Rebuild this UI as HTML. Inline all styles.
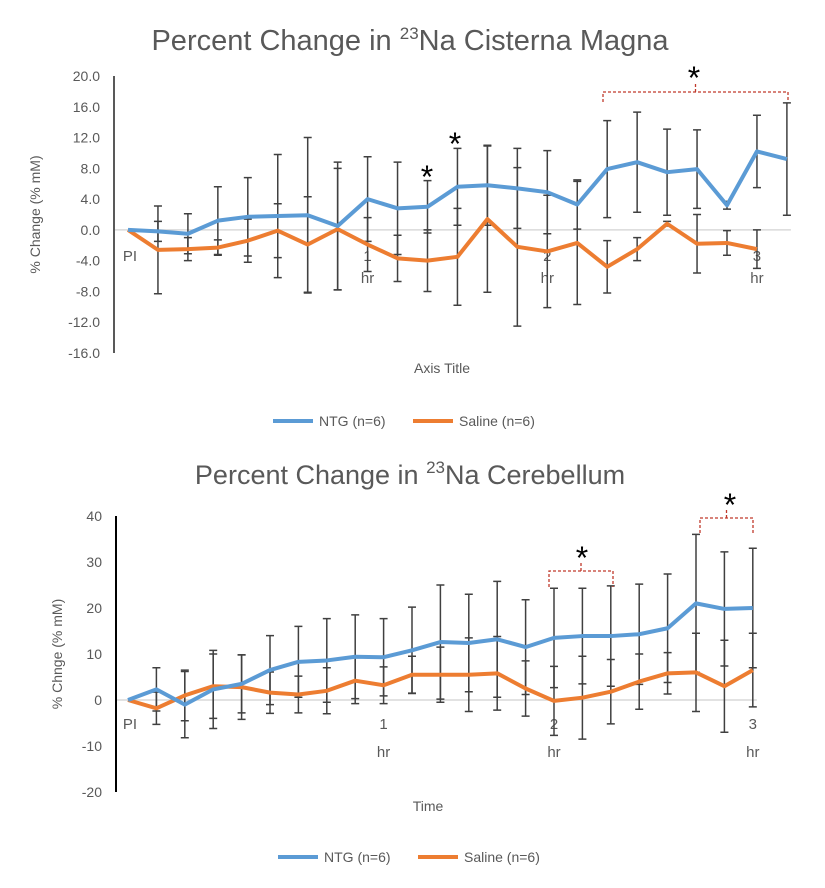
<!DOCTYPE html>
<html><head><meta charset="utf-8"><style>
html,body{margin:0;padding:0;background:#fff;}
svg{display:block;font-family:"Liberation Sans",sans-serif;}
</style></head><body>
<svg id="svg" width="825" height="888" viewBox="0 0 825 888"></svg>
<script>
// ---- Chart 1 data (Cisterna Magna) ----
const c1Ticks=[20,16,12,8,4,0,-4,-8,-12,-16];
const c1Ntg=[0,-0.2,-0.5,1.2,1.7,1.8,1.9,0.5,4.0,2.8,3.0,5.6,5.8,5.4,4.9,3.3,7.9,8.8,7.5,7.9,3.2,10.2,9.2];
const c1NtgErr=[0,1.3,2.6,4.4,5.1,8.0,10.1,8.3,5.5,6.0,3.4,5.0,5.2,5.2,5.4,3.2,6.3,6.5,5.6,5.1,0.5,4.7,7.3];
const c1Sal=[0,-2.6,-2.5,-2.3,-1.4,-0.1,-1.9,0.1,-1.9,-3.7,-4.0,-3.5,1.4,-2.2,-2.8,-1.7,-4.8,-2.5,0.8,-1.8,-1.7,-2.5];
const c1SalErr=[0,5.7,1.5,1.0,2.8,3.5,6.2,7.9,3.5,3.0,4.0,6.3,9.5,10.3,7.3,8.0,3.4,1.5,0.3,3.8,1.6,2.5];
const c1Cats=[["PI",""],[8,"1","hr"],[14,"2","hr"],[21,"3","hr"]];
// ---- Chart 2 data (Cerebellum) ----
const c2Ticks=[40,30,20,10,0,-10,-20];
const c2Ntg=[0,2.3,-1,2.3,3.5,6.5,8.3,8.6,9.4,9.3,10.8,12.6,12.4,13.2,11.5,13.5,13.9,13.9,14.3,15.6,21,19.8,20];
const c2NtgErr=[0,4.7,7.2,8.5,6.3,7.5,7.7,9.1,9.1,8.4,9.4,12.4,10.6,12.6,10.3,10.8,10.4,10.9,10.9,11.8,15,12.4,13];
const c2Sal=[0,-1.8,1,3,2.8,1.6,1.2,2,4.2,3.2,5.5,5.5,5.5,5.8,2.5,-0.2,0.5,1.8,4,5.8,6,3,6.5];
const c2SalErr=[0,3.5,5.5,7,7,4.5,4,5,5,4,4,6,8,8,6,7.5,9,7,6,4.5,8.5,10,8];
const c2Cats=[["PI",""],[9,"1","hr"],[15,"2","hr"],[22,"3","hr"]];

const svg=document.getElementById('svg');
const NS='http://www.w3.org/2000/svg';
function mk(tag,attrs,parent){const e=document.createElementNS(NS,tag);for(const k in attrs)e.setAttribute(k,attrs[k]);(parent||svg).appendChild(e);return e;}
function txt(s,x,y,size,fill,anchor,parent){const t=mk('text',{x:x,y:y,'font-size':size,fill:fill,'text-anchor':anchor||'middle'},parent);t.textContent=s;return t;}

function chart(o){
  const g=mk('g',{});
  
  
  const yS=v=>o.y0-(v-o.ymin)*(o.y0-o.y1)/(o.ymax-o.ymin);
  const xS=i=>o.x0+i*o.dx;
  const t=mk('text',{x:410,y:o.titleY,'font-size':o.titleSize,fill:'#595959','text-anchor':'middle'},g);
  
  
  t.appendChild(document.createTextNode('Percent Change in '));
  const sup=mk('tspan',{'font-size':17,dy:-11},t);sup.textContent='23';
  const rest=mk('tspan',{dy:11},t);rest.textContent='Na '+o.title;
  const zl=mk('line',{x1:o.axisX,x2:o.x0+(o.n-1)*o.dx+4,y1:yS(0),y2:yS(0),stroke:'#d9d9d9','stroke-width':1.5},g);
  
  
  const ax=mk('line',{x1:o.axisX,x2:o.axisX,y1:yS(o.ymax),y2:yS(o.ymin),stroke:o.axisColor,'stroke-width':2},g);
  
  
  o.ticks.forEach(v=>{
    const tl=txt(o.fmt(v),o.axisX-14,yS(v)+5,14,'#595959','end',g);
    
    
  });
  const yt=mk('text',{x:0,y:0,'font-size':14,fill:'#595959','text-anchor':'middle',transform:`translate(${o.ytX},${(yS(o.ymax)+yS(o.ymin))/2}) rotate(-90)`},g);
  yt.textContent=o.ytitle;
  
  
  o.cats.forEach((c,k)=>{
    let lx,l1,l2;
    if(k===0){lx=xS(0)+2;l1=c[0];l2='';} else {lx=xS(c[0]);l1=c[1];l2=c[2];}
    const a=txt(l1,lx,yS(0)+o.lab1,15,'#595959','middle',g);
    
    
    if(l2){const b=txt(l2,lx,yS(0)+o.lab2,15,'#595959','middle',g);
      
      }
  });
  const xt=txt(o.xtitle,o.xtX,o.xtY,14,'#595959','middle',g);
  
  
  [[o.sal,o.salErr],[o.ntg,o.ntgErr]].forEach(([vals,errs])=>{
    vals.forEach((v,i)=>{
      if(!errs[i])return;
      const x=xS(i),a=yS(v+errs[i]),b=yS(v-errs[i]);
      const eb=mk('path',{d:`M${x},${a}V${b}M${x-4},${a}H${x+4}M${x-4},${b}H${x+4}`,stroke:'#404040','stroke-width':1.5,fill:'none'},g);
      
      
    });
  });
  [[o.sal,'#ed7d31','saline-line'],[o.ntg,'#5b9bd5','ntg-line']].forEach(([vals,col,nm])=>{
    const p=mk('polyline',{points:vals.map((v,i)=>xS(i)+','+yS(v)).join(' '),fill:'none',stroke:col,'stroke-width':4,'stroke-linejoin':'round'},g);
    
    
  });
  const lg=mk('g',{},g);
  
  
  mk('line',{x1:o.legX,x2:o.legX+40,y1:o.legY,y2:o.legY,stroke:'#5b9bd5','stroke-width':4},lg);
  txt('NTG (n=6)',o.legX+46,o.legY+5,14,'#595959','start',lg);
  mk('line',{x1:o.legX+140,x2:o.legX+180,y1:o.legY,y2:o.legY,stroke:'#ed7d31','stroke-width':4},lg);
  txt('Saline (n=6)',o.legX+186,o.legY+5,14,'#595959','start',lg);
  return {g,xS,yS};
}
function star(x,y,parent){const s=txt('*',x,y,32,'#000','middle',parent);
  
  }
function bracket(x1,x2,y,h,parent){const p=mk('path',{d:`M${x1},${y+h}V${y}H${x2}V${y+h}M${(x1+x2)/2},${y}v-8`,stroke:'#c0392b','stroke-width':1.3,'stroke-dasharray':'3,2',fill:'none'},parent);
  
  }

const A=chart({name:'cisterna-magna-chart',title:'Cisterna Magna',titleY:50,titleSize:29,ymin:-16,ymax:20,y0:353,y1:76,
  x0:128,dx:29.95,n:23,axisX:114,axisColor:'#595959',ticks:c1Ticks,fmt:v=>v.toFixed(1),ytitle:'% Change (% mM)',ytX:40,
  cats:c1Cats,lab1:31,lab2:53,xtitle:'Axis Title',xtX:442,xtY:373,ntg:c1Ntg,ntgErr:c1NtgErr,sal:c1Sal,salErr:c1SalErr,legX:273,legY:421});
star(427,188,A.g);star(455,155,A.g);star(694,89,A.g);
bracket(603,788,92,10,A.g);

const B=chart({name:'cerebellum-chart',title:'Cerebellum',titleY:484,titleSize:27,ymin:-20,ymax:40,y0:792,y1:516,
  x0:128,dx:28.4,n:23,axisX:116,axisColor:'#000',ticks:c2Ticks,fmt:v=>String(v),ytitle:'% Chnge (% mM)',ytX:62,
  cats:c2Cats,lab1:29,lab2:57,xtitle:'Time',xtX:428,xtY:811,ntg:c2Ntg,ntgErr:c2NtgErr,sal:c2Sal,salErr:c2SalErr,legX:278,legY:857});
star(582,569,B.g);star(730,516,B.g);
bracket(549,613,571,16,B.g);
bracket(700,753,518,15,B.g);
</script>
</body></html>
